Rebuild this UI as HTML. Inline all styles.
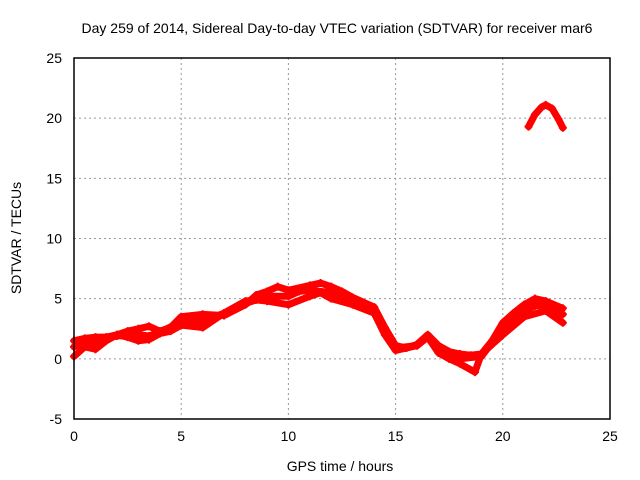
<!DOCTYPE html>
<html><head><meta charset="utf-8"><style>
body{margin:0;background:#fff}
svg{display:block;font-family:"Liberation Sans",sans-serif}
</style></head><body>
<svg id="chart" width="640" height="480">
<text x="337" y="33" font-size="14" text-anchor="middle">Day 259 of 2014, Sidereal Day-to-day VTEC variation (SDTVAR) for receiver mar6</text>
<text x="340" y="471" font-size="14" text-anchor="middle">GPS time / hours</text>
<text transform="translate(21,238) rotate(-90)" font-size="14" text-anchor="middle">SDTVAR / TECUs</text>
<g id="grid"></g>
<g id="ticks"></g>
<g id="marks"></g>
<rect x="74" y="58" width="536" height="361" fill="none" stroke="#000" stroke-width="1.5"/>
</svg>
<script>
const xTicks=[0,5,10,15,20,25];
const yTicks=[-5,0,5,10,15,20,25];
const upperX=[0,0.5,1,1.5,2,2.5,3,3.5,4,4.5,5,6,7,8,8.5,9,9.5,10,11,11.5,12,12.5,13,14,14.5,15,15.5,16,16.5,17,17.5,18,18.5,19,19.5,20,20.5,21,21.5,22,22.8];
const upperY=[1.5,1.7,1.8,1.8,2.0,2.3,2.5,2.7,2.3,2.6,3.5,3.7,3.6,4.5,5.3,5.6,6.0,5.7,6.1,6.3,6.0,5.6,5.1,4.3,2.6,1.1,0.9,1.2,2.0,1.1,0.6,0.4,0.3,0.4,1.5,3.0,3.8,4.5,5.0,4.8,4.2];
const midX=[0,0.5,1,1.5,2,3,3.5,4,5,6,7,8,9,10,10.5,11,12,13,14,14.5,15,16,16.5,17,18,19,20,21,21.5,22,22.8];
const midY=[1.0,1.4,1.2,1.7,1.9,2.0,1.9,2.2,3.1,3.1,3.8,4.6,5.2,5.2,5.6,5.7,5.5,4.8,4.0,2.2,0.9,1.1,1.9,0.9,0.0,0.2,2.5,4.0,4.4,4.5,3.7];
const lowerX=[0,0.5,1,1.5,2,2.5,3,3.5,4,4.5,5,6,7,8,8.5,9,10,11,11.5,12,13,14,14.5,15,16,16.5,17,17.5,18,18.7,19,19.5,20,21,22,22.8];
const lowerY=[0.2,1.0,0.8,1.5,2.0,1.8,1.5,1.6,2.1,2.3,2.8,2.6,3.8,4.8,4.9,4.8,4.5,5.2,5.5,5.0,4.5,3.8,2.0,0.7,1.1,1.8,0.5,0.0,-0.4,-1.1,0.4,1.2,2.0,3.5,4.0,3.0];
const arcX=[21.2,21.5,21.8,22,22.3,22.6,22.8];
const arcY=[19.3,20.3,20.9,21.1,20.8,19.9,19.2];
const X=v=>74+v*(536/25), Y=v=>419-(v+5)*(361/30);
const ns="http://www.w3.org/2000/svg";
const grid=document.getElementById('grid'),ticks=document.getElementById('ticks'),marks=document.getElementById('marks');
function mk(tag,attrs,parent){const e=document.createElementNS(ns,tag);for(const k in attrs)e.setAttribute(k,attrs[k]);parent.appendChild(e);return e;}
xTicks.forEach(t=>{
 if(t>0&&t<25){const g=mk('line',{x1:X(t),x2:X(t),y1:58,y2:419,stroke:'#999','stroke-dasharray':'2,3'},grid);
 }
 const l=mk('text',{x:X(t),y:441,'font-size':14,'text-anchor':'middle'},ticks);l.textContent=t;
 
});
yTicks.forEach(t=>{
 if(t>-5&&t<25){const g=mk('line',{x1:74,x2:610,y1:Y(t),y2:Y(t),stroke:'#999','stroke-dasharray':'2,3'},grid);
 }
 const l=mk('text',{x:62,y:Y(t)+5,'font-size':14,'text-anchor':'end'},ticks);l.textContent=t;
 
});
function series(xs,ys,name){
 const p=mk('polyline',{points:xs.map((x,i)=>X(x)+','+Y(ys[i])).join(' '),fill:'none',stroke:'#f00','stroke-width':7,'stroke-linejoin':'round','stroke-linecap':'round'},marks);
 
 xs.forEach((x,i)=>{const m=mk('path',{d:`M${X(x)-4},${Y(ys[i])}h8M${X(x)},${Y(ys[i])-4}v8`,stroke:'#f00','stroke-width':2},marks);
 });
}
series(upperX,upperY,'upper-band');
series(midX,midY,'middle-band');
series(lowerX,lowerY,'lower-band');
series(arcX,arcY,'late-arc');
</script>
</body></html>
